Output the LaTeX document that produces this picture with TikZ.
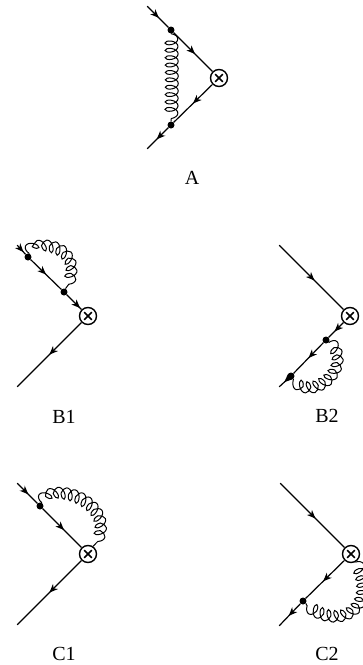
\documentclass[tikz,border=0pt]{standalone}
\usepackage{fontspec}
\setmainfont{Liberation Serif}
\usetikzlibrary{arrows.meta,decorations.markings,decorations.pathmorphing}
\tikzset{
  vtx/.style={circle,fill=black,inner sep=0pt,minimum size=7pt},
  pt/.style={inner sep=0pt,minimum size=0pt},
  ins/.style={circle,draw=black,line width=1.4pt,fill=white,inner sep=0pt,minimum size=17pt,
    path picture={\draw[line width=1.6pt] ([shift={(-3.8pt,-3.8pt)}]path picture bounding box.center) -- ([shift={(3.8pt,3.8pt)}]path picture bounding box.center);
    \draw[line width=1.6pt] ([shift={(-3.8pt,3.8pt)}]path picture bounding box.center) -- ([shift={(3.8pt,-3.8pt)}]path picture bounding box.center);}},
  lab/.style={inner sep=0pt,font=\fontsize{20}{20}\selectfont},
  fer/.style={line width=1.2pt,postaction={decorate},decoration={markings,mark=at position #1 with {\arrow{Stealth[length=8.5pt,width=7pt,inset=2.5pt]}}}},
  glu/.style={line width=1pt,decorate,decoration={coil,aspect=#1,amplitude=6.5pt,segment length=7.4pt,pre length=0pt,post length=0pt}},
  glu/.default=0.55
}
\begin{document}
\begin{tikzpicture}[x=1pt,y=-1pt]
\useasboundingbox (0,0) rectangle (363,665);
% A
\node[pt] (a0) at (147,6) {};
\node[vtx] (a1) at (171,30) {};
\node[ins] (ax) at (219,78) {};
\node[vtx] (a2) at (171,125) {};
\node[pt] (a3) at (147,149) {};
\draw[fer=.55] (a0) -- (a1);
\draw[fer=.55] (a1) -- (ax);
\draw[fer=.5] (ax) -- (a2);
\draw[fer=.55] (a2) -- (a3);
\draw[glu] (a1) .. controls (172,60) and (172,95) .. (a2);
\node[lab] (al) at (192,178) {A};
% B1
\node[pt] (b0) at (17,245) {};
\node[vtx] (b1) at (28,257) {};
\node[vtx] (b2) at (64,292) {};
\node[ins] (bx) at (88,316) {};
\node[pt] (b3) at (17,387) {};
\draw[fer=.75] (b0) -- (b1);
\draw[fer=.5] (b1) -- (b2);
\draw[fer=.9] (b2) -- (bx);
\draw[fer=.5] (bx) -- (b3);
\draw[glu] (b1) .. controls (35,240) and (85,245) .. (b2);
\node[lab] (bl) at (64,417) {B1};
% B2
\node[pt] (d0) at (279,245) {};
\node[ins] (dx) at (350,316) {};
\node[vtx] (d1) at (326,340) {};
\node[vtx] (d2) at (291,376) {};
\node[pt] (d3) at (279,387) {};
\draw[fer=.55] (d0) -- (dx);
\draw[fer=.6] (dx) -- (d1);
\draw[fer=.5] (d1) -- (d2);
\draw[fer=.45] (d2) -- (d3);
\draw[glu] (d1) .. controls (352,365) and (315,402) .. (d2);
\node[lab] (dl) at (327,416) {B2};
% C1
\node[pt] (c0) at (17,483) {};
\node[vtx] (c1) at (40,506) {};
\node[ins] (cx) at (88,554) {};
\node[pt] (c3) at (17,625) {};
\draw[fer=.55] (c0) -- (c1);
\draw[fer=.55] (c1) -- (cx);
\draw[fer=.5] (cx) -- (c3);
\draw[glu] (c1) .. controls (55,480) and (120,505) .. (cx);
\node[lab] (cl) at (64,654) {C1};
% C2
\node[pt] (e0) at (280,483) {};
\node[ins] (ex) at (351,554) {};
\node[vtx] (e1) at (303,601) {};
\node[pt] (e3) at (279,626) {};
\draw[fer=.55] (e0) -- (ex);
\draw[fer=.55] (ex) -- (e1);
\draw[fer=.55] (e1) -- (e3);
\draw[glu] (ex) .. controls (378,605) and (340,632) .. (e1);
\node[lab] (el) at (327,654) {C2};
\end{tikzpicture}
\end{document}
